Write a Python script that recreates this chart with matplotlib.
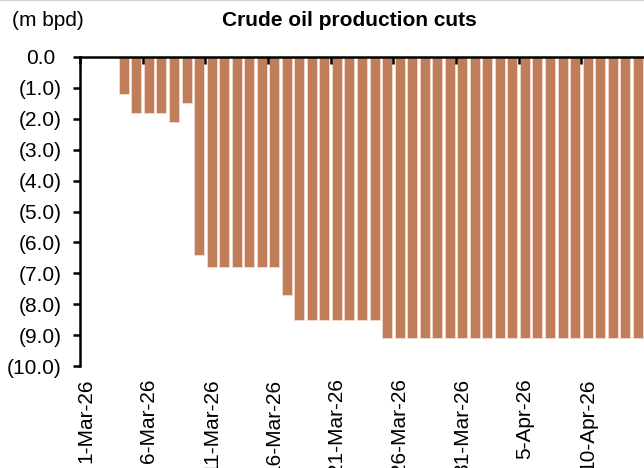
import pandas as pd
import matplotlib
matplotlib.use("Agg")
import matplotlib.pyplot as plt
import matplotlib.transforms as mtransforms

plt.rcParams['font.family'] = ['Liberation Sans', 'DejaVu Sans']

axis_start = pd.Timestamp("2026-03-01")
axis_end = pd.Timestamp("2026-04-15")
first_cut = pd.Timestamp("2026-03-04")

# production cuts, m bpd, daily from 4-Mar-26
cuts = [-1.2, -1.8, -1.8, -1.8, -2.1, -1.5, -6.4,
        -6.8, -6.8, -6.8, -6.8, -6.8, -6.8, -7.7,
        -8.5, -8.5, -8.5, -8.5, -8.5, -8.5, -8.5,
        -9.1, -9.1, -9.1, -9.1, -9.1, -9.1, -9.1,
        -9.1, -9.1, -9.1, -9.1, -9.1, -9.1, -9.1,
        -9.1, -9.1, -9.1, -9.1, -9.1, -9.1, -9.1]
dates = pd.date_range(first_cut, periods=len(cuts), freq="D")

tick_dates = pd.date_range(axis_start, periods=9, freq="5D")
tick_labels = [f"{d.day}-{d.strftime('%b')}-26" for d in tick_dates]

y_ticks = [0, -1, -2, -3, -4, -5, -6, -7, -8, -9, -10]
y_labels = ["0.0"] + [f"({-v:.1f})" for v in y_ticks[1:]]

fig = plt.figure(figsize=(6.44, 4.68), dpi=100)
ax = fig.add_axes([80 / 644, 1 - 366 / 468, 1 - 80 / 644, (366 - 57) / 468])

x = [(d - axis_start).days + 0.5 for d in dates]
ax.bar(x, cuts, width=0.8, color="#c07d5a", edgecolor="#f2dccf", linewidth=0.6)

ax.set_xlim(0, (axis_end - axis_start).days)
ax.set_ylim(-10, 0)

ax.set_yticks(y_ticks)
ax.set_yticklabels(y_labels, fontsize=15)
ax.tick_params(axis="y", length=5, width=1.8, pad=8)
# positive label leaves room for the closing bracket, as in the source
zero_lab = ax.get_yticklabels()[0]
zero_lab.set_transform(zero_lab.get_transform() +
                       mtransforms.ScaledTranslation(-7 / 100, 0, fig.dpi_scale_trans))

major = [(d - axis_start).days for d in tick_dates]
ax.set_xticks(major)
ax.set_xticklabels([""] * len(major))
ax.set_xticks([m + 0.5 for m in major], tick_labels, minor=True, rotation=90,
              fontsize=15)
ax.tick_params(axis="x", which="major", top=True, bottom=False, direction="in",
               length=5, width=1.8, labelbottom=False)
ax.tick_params(axis="x", which="minor", length=0, pad=9)

for s in ["right", "bottom"]:
    ax.spines[s].set_visible(False)
ax.spines["left"].set_linewidth(1.8)
ax.spines["top"].set_linewidth(1.8)

fig.text(349.5 / 644, 1 - 21 / 468, "Crude oil production cuts", ha="center",
         va="center", fontsize=15, fontweight="bold")
fig.text(12.5 / 644, 1 - 21 / 468, "(m bpd)", ha="left", va="center", fontsize=15)
fig.add_artist(plt.Line2D([0, 1], [0.999, 0.999], color="#c8c8c8", linewidth=1.2))

fig.savefig("out.png", dpi=100)
